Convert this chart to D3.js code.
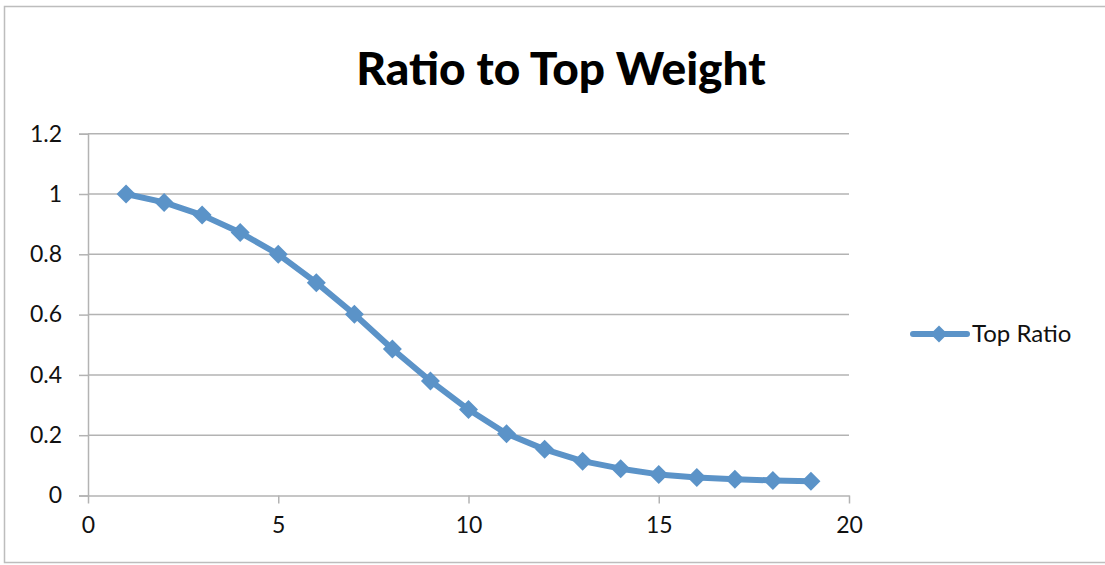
<!DOCTYPE html>
<html><head><meta charset="utf-8">
<script src="https://cdn.jsdelivr.net/npm/d3@7"></script>
<style>body{margin:0;background:#fff}svg{display:block}</style>
</head><body>
<svg id="c" width="1105" height="565"></svg>
<script>
const xValues = [1,2,3,4,5,6,7,8,9,10,11,12,13,14,15,16,17,18,19];
const topRatio = [1.0,0.972,0.930,0.872,0.800,0.706,0.601,0.486,0.380,0.285,0.205,0.153,0.114,0.089,0.070,0.060,0.054,0.050,0.047];
const xTicks = [0,5,10,15,20];
const yTicks = [0,0.2,0.4,0.6,0.8,1,1.2];
const title = "Ratio to Top Weight";
const seriesName = "Top Ratio";

const svg = d3.select("#c");
const color = "#5b93c8";
const font = "Lato, 'Open Sans', sans-serif";

svg.append("rect").attr("x",4.5).attr("y",6.5).attr("width",1120).attr("height",556)
  .attr("fill","#fff").attr("stroke","#bdbdbd").attr("stroke-width",1.5);

const x = d3.scaleLinear().domain([0,20]).range([88,849]);
const y = d3.scaleLinear().domain([0,1.2]).range([495.5,133.7]);

// gridlines
svg.append("g").selectAll("line").data(yTicks.filter(d=>d>0)).join("line")
  .attr("x1",x(0)).attr("x2",x(20)).attr("y1",d=>y(d)).attr("y2",d=>y(d))
  .attr("stroke","#b3b3b3").attr("stroke-width",1.5);

// y axis
const ya = svg.append("g").attr("transform",`translate(${x(0)},0)`)
  .call(d3.axisLeft(y).tickValues(yTicks).tickSize(9).tickPadding(17).tickFormat(d=>d3.format("~g")(d)));
ya.select(".domain").attr("stroke","#b3b3b3").attr("stroke-width",1.5);
ya.selectAll(".tick line").attr("stroke","#b3b3b3").attr("stroke-width",1.5);
ya.selectAll("text").attr("font-family",font).attr("font-size",23).attr("fill","#111");

// x axis
const xa = svg.append("g").attr("transform",`translate(0,${y(0)})`)
  .call(d3.axisBottom(x).tickValues(xTicks).tickSize(8).tickPadding(13).tickSizeOuter(0));
xa.select(".domain").attr("stroke","#b3b3b3").attr("stroke-width",1.5);
xa.selectAll(".tick line").attr("stroke","#b3b3b3").attr("stroke-width",1.5);
xa.selectAll("text").attr("font-family",font).attr("font-size",23).attr("fill","#111");

// line
const data = xValues.map((v,i)=>({x:v,y:topRatio[i]}));
svg.append("path").datum(data)
  .attr("d",d3.line().x(d=>x(d.x)).y(d=>y(d.y)))
  .attr("fill","none").attr("stroke",color).attr("stroke-width",6).attr("stroke-linejoin","round");

const diamond = s => `M0,${-s}L${s},0L0,${s}L${-s},0Z`;
svg.append("g").selectAll("path").data(data).join("path")
  .attr("transform",d=>`translate(${x(d.x)},${y(d.y)})`)
  .attr("d",diamond(9.5)).attr("fill",color);

// title
svg.append("text").attr("x",561).attr("y",85).attr("text-anchor","middle")
  .attr("font-family",font).attr("font-weight",900).attr("font-size",46).attr("fill","#000")
  .text(title);

// legend
const lg = svg.append("g").attr("transform","translate(910,334)");
lg.append("line").attr("x1",3).attr("x2",57).attr("stroke",color).attr("stroke-width",6).attr("stroke-linecap","round");
lg.append("path").attr("transform","translate(29,0)").attr("d",diamond(8.5)).attr("fill",color);
lg.append("text").attr("x",62).attr("y",8).attr("font-family",font).attr("font-size",24).attr("fill","#111").text(seriesName);
</script>
</body></html>
